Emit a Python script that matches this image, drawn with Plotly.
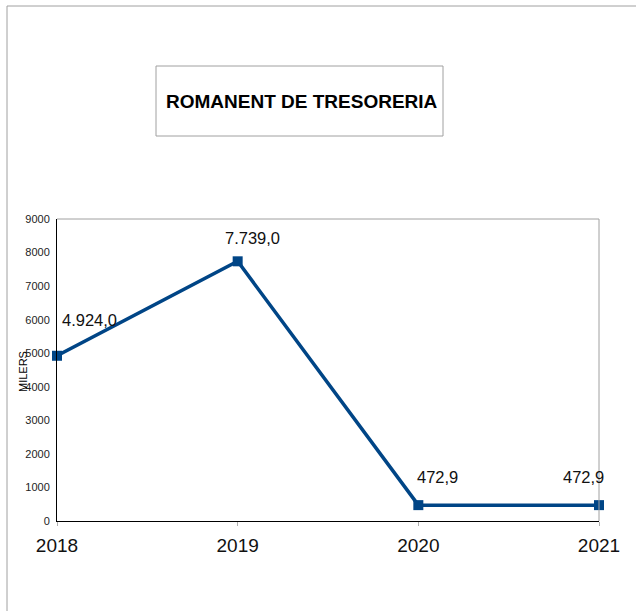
import plotly.graph_objects as go

# Treasury surplus (thousands) per year
years = ["2018", "2019", "2020", "2021"]
values = [4924.0, 7739.0, 472.9, 472.9]
value_labels = ["4.924,0", "7.739,0", "472,9", "472,9"]
label_shift_x = [3, 15, 19, -16]
label_shift_y = [36, 23, 28, 28]
y_ticks = [0, 1000, 2000, 3000, 4000, 5000, 6000, 7000, 8000, 9000]

W, H = 636, 611
ML, MR, MT, MB = 57, 37, 219, 90
PW, PH = W - ML - MR, H - MT - MB


def px(x):
    return (x - ML) / PW


def py(y):
    return (H - MB - y) / PH


line_color = "#004586"
font_family = "Liberation Sans, Arial, sans-serif"

fig = go.Figure()
fig.add_trace(go.Scatter(
    x=list(range(len(years))), y=values, mode="lines+markers",
    line=dict(color=line_color, width=3.5),
    marker=dict(symbol="square", size=10, color=line_color),
    cliponaxis=False, showlegend=False, hoverinfo="skip",
))

for i, (v, t) in enumerate(zip(values, value_labels)):
    fig.add_annotation(
        x=i, y=v, text=t, showarrow=False,
        xanchor="left" if i == 0 else "center", yanchor="middle",
        xshift=label_shift_x[i], yshift=label_shift_y[i],
        font=dict(size=16.5, color="#111", family=font_family),
    )

shapes = [
    # outer frame (top and left edges)
    dict(type="line", xref="paper", yref="paper", x0=px(7), x1=px(W + 5), y0=py(6), y1=py(6),
         line=dict(color="#a0a0a0", width=1)),
    dict(type="line", xref="paper", yref="paper", x0=px(7), x1=px(7), y0=py(6), y1=py(H + 5),
         line=dict(color="#a0a0a0", width=1)),
    # title box
    dict(type="rect", xref="paper", yref="paper", x0=px(156), x1=px(443), y0=py(66), y1=py(136),
         line=dict(color="#a0a0a0", width=1), fillcolor="rgba(0,0,0,0)"),
    # plot area frame (top and right)
    dict(type="line", xref="paper", yref="paper", x0=0, x1=1, y0=1, y1=1,
         line=dict(color="#a0a0a0", width=1)),
    dict(type="line", xref="paper", yref="paper", x0=1, x1=1, y0=0, y1=1,
         line=dict(color="#a0a0a0", width=1)),
]

fig.add_annotation(
    xref="paper", yref="paper", x=px(302), y=py(101), text="<b>ROMANENT DE TRESORERIA</b>",
    showarrow=False, xanchor="center", yanchor="middle",
    font=dict(size=19, color="#000", family=font_family),
)
fig.add_annotation(
    xref="paper", yref="paper", x=px(23), y=py(372), text="MILERS", textangle=-90,
    showarrow=False, xanchor="center", yanchor="middle",
    font=dict(size=11, color="#000", family=font_family),
)

fig.update_layout(
    width=W, height=H, margin=dict(l=ML, r=MR, t=MT, b=MB),
    paper_bgcolor="white", plot_bgcolor="white", shapes=shapes,
    font=dict(family=font_family, color="#000"),
    xaxis=dict(
        range=[0, len(years) - 1], tickmode="array", tickvals=list(range(len(years))),
        ticktext=years, showgrid=False, zeroline=False, showline=True,
        linecolor="#000", linewidth=1, ticks="outside", ticklen=4, tickcolor="#b0b0b0",
        tickfont=dict(size=19, color="#111"), ticklabelstandoff=3,
    ),
    yaxis=dict(
        range=[0, 9000], tickmode="array", tickvals=y_ticks, showgrid=False,
        zeroline=False, showline=True, linecolor="#000", linewidth=1, ticks="",
        tickfont=dict(size=11, color="#222"), ticklabelstandoff=4,
    ),
)

fig.write_html("out.html")
